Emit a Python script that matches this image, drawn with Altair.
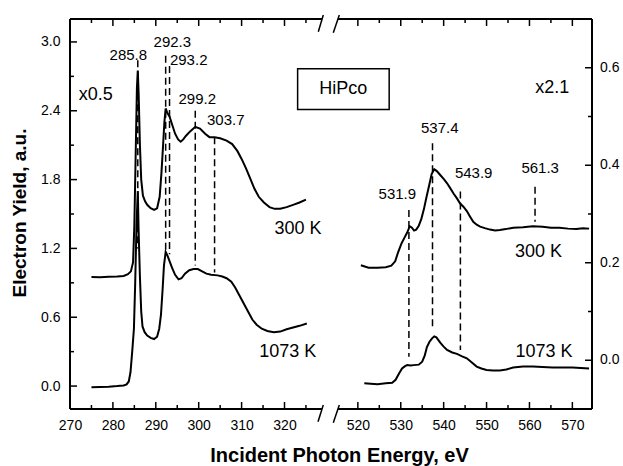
import altair as alt
import pandas as pd

# ---------------- data ----------------
# C 1s region, 300 K (x0.5, offset) - left axis
c300_E = [275.0, 277.0, 279.0, 281.0, 282.5, 283.5, 284.2, 284.7, 285.0, 285.3, 285.6, 285.8,
          286.0, 286.3, 286.6, 287.0, 287.5, 288.0, 288.8, 289.6, 290.3, 290.9, 291.3, 291.7,
          292.0, 292.3, 292.7, 293.2, 293.8, 294.5, 295.2, 295.8, 296.4, 297.0, 298.0, 299.2,
          300.3, 301.5, 302.5, 303.7, 305.0, 306.5, 307.8, 309.0, 310.0, 311.0, 312.0, 313.0,
          314.0, 315.2, 316.5, 317.7, 319.0, 320.5, 322.0, 323.5, 325.0]
c300_Y = [0.95, 0.948, 0.952, 0.955, 0.96, 0.975, 1.0, 1.08, 1.4, 2.0, 2.6, 2.75,
          2.55, 2.1, 1.8, 1.66, 1.61, 1.58, 1.55, 1.535, 1.55, 1.65, 1.85, 2.1,
          2.3, 2.42, 2.38, 2.35, 2.28, 2.2, 2.15, 2.13, 2.15, 2.18, 2.22, 2.26,
          2.245, 2.2, 2.17, 2.17, 2.16, 2.14, 2.11, 2.05, 1.98, 1.9, 1.81, 1.72,
          1.65, 1.6, 1.56, 1.545, 1.545, 1.56, 1.58, 1.6, 1.625]

# C 1s region, 1073 K - left axis
c1073_E = [275.0, 277.0, 279.0, 281.0, 282.5, 283.2, 283.7, 284.1, 284.5, 284.9, 285.2, 285.5,
           285.8, 286.0, 286.3, 286.6, 286.9, 287.4, 288.0, 288.8, 289.6, 290.3, 290.8, 291.2,
           291.6, 291.9, 292.3, 292.7, 293.2, 293.8, 294.5, 295.3, 296.0, 296.8, 297.8, 298.8,
           299.8, 300.8, 301.8, 302.9, 304.4, 305.5, 306.5, 307.6, 308.5, 309.5, 310.5, 311.5,
           312.5, 313.5, 314.7, 316.0, 317.5, 319.0, 320.5, 322.0, 323.5, 325.2]
c1073_Y = [-0.01, -0.008, -0.005, 0.0, 0.005, 0.015, 0.04, 0.12, 0.3, 0.5, 0.9, 1.4,
           1.7, 1.35, 0.95, 0.65, 0.52, 0.47, 0.44, 0.42, 0.41, 0.43, 0.5, 0.62,
           0.85, 1.05, 1.17, 1.14, 1.09, 1.03, 0.97, 0.93, 0.94, 0.98, 1.01, 1.02,
           1.02, 1.0, 0.98, 0.97, 0.965, 0.955, 0.94, 0.91, 0.86, 0.79, 0.72, 0.65,
           0.58, 0.535, 0.5, 0.48, 0.47, 0.475, 0.495, 0.51, 0.525, 0.545]

# O 1s region, 300 K (x2.1) - right axis
o300_E = [520.7, 522.5, 524.6, 526.5, 527.8, 528.7, 529.4, 530.2, 530.9, 531.5, 532.1, 532.6,
          533.1, 533.6, 534.2, 534.8, 535.4, 536.0, 536.6, 537.2, 537.8, 538.4, 539.2, 540.0,
          540.8, 541.6, 542.3, 543.1, 543.8, 544.6, 545.4, 546.2, 546.9, 547.7, 548.5, 549.6,
          550.8, 552.0, 553.1, 554.5, 556.2, 558.5, 560.8, 563.1, 565.0, 567.0, 569.0, 570.9,
          572.5, 573.9]
o300_Y = [0.195, 0.19, 0.19, 0.191, 0.194, 0.203, 0.222, 0.24, 0.252, 0.262, 0.275, 0.272,
          0.266, 0.268, 0.276, 0.29, 0.31, 0.335, 0.358, 0.382, 0.392, 0.388, 0.38, 0.372,
          0.363, 0.352, 0.342, 0.332, 0.322, 0.315, 0.306, 0.294, 0.284, 0.278, 0.274, 0.271,
          0.268, 0.266, 0.267, 0.269, 0.272, 0.273, 0.275, 0.274, 0.272, 0.272, 0.27, 0.269,
          0.271, 0.27]

# O 1s region, 1073 K - right axis
o1073_E = [521.5, 523.0, 524.6, 526.5, 528.0, 528.8, 529.6, 530.3, 531.0, 531.5, 532.3, 533.0,
           534.2, 535.0, 535.6, 536.1, 536.7, 537.3, 537.8, 538.3, 539.2, 540.0, 540.8, 542.0,
           543.1, 544.3, 545.4, 546.5, 547.7, 548.8, 550.0, 551.5, 553.1, 554.6, 556.2, 558.5,
           560.8, 563.0, 565.4, 567.7, 570.0, 572.0, 573.9]
o1073_Y = [-0.047, -0.048, -0.049, -0.047, -0.046, -0.04, -0.027, -0.017, -0.012, -0.01, -0.011, -0.01,
           -0.009, -0.003, 0.01, 0.027, 0.038, 0.045, 0.049, 0.047, 0.036, 0.028, 0.021, 0.016,
           0.013, 0.008, 0.004, -0.004, -0.013, -0.017, -0.02, -0.021, -0.021, -0.019, -0.015, -0.013,
           -0.013, -0.014, -0.015, -0.015, -0.015, -0.016, -0.017]

# dashed peak markers
cpk_E = [285.8, 292.3, 293.2, 299.2, 303.7]
cpk_top = [2.84, 2.88, 2.79, 2.40, 2.17]
cpk_bot = [1.2, 1.18, 1.15, 1.05, 0.99]
opk_E = [531.9, 537.4, 543.9, 561.3]
opk_top = [0.308, 0.445, 0.346, 0.356]
opk_bot = [0.007, 0.066, 0.021, 0.284]

# annotation labels
cnum_text = ["285.8", "292.3", "293.2", "299.2", "303.7"]
cnum_E = [283.6, 293.85, 297.67, 299.67, 306.3]
cnum_Y = [2.883, 3.0, 2.84, 2.506, 2.316]
cbig_text = ["x0.5", "300 K", "1073 K"]
cbig_E = [276.0, 323.15, 320.77]
cbig_Y = [2.54, 1.366, 0.296]
onum_text = ["531.9", "537.4", "543.9", "561.3"]
onum_E = [529.2, 539.1, 547.0, 562.5]
onum_Y = [0.342, 0.476, 0.385, 0.394]
obig_text = ["x2.1", "300 K", "1073 K"]
obig_E = [565.3, 562.1, 563.4]
obig_Y = [0.558, 0.2227, 0.0175]

# tick values
x_major_left = [270, 280, 290, 300, 310, 320]
x_minor_left = [275, 285, 295, 305, 315, 325]
x_major_right = [520, 530, 540, 550, 560, 570]
x_minor_right = [525, 535, 545, 555, 565]
yl_major = [0.0, 0.6, 1.2, 1.8, 2.4, 3.0]
yl_minor = [0.3, 0.9, 1.5, 2.1, 2.7]
yr_major = [0.0, 0.2, 0.4, 0.6]
yr_minor = [0.1, 0.3, 0.5]

# ---------------- layout ----------------
FONT = "Liberation Sans"
W, H = 522, 390
PXU = 4.29                 # pixels per eV
X0 = 270.0
XMAX = X0 + W / PXU
OFF = 182.9                # shift of the O 1s segment on the broken axis
TMAJ, TMIN = 7, 4          # inward tick lengths (px)
YL = (-0.2, 3.2)           # left axis range
YR = (-0.1, 0.7)           # right axis range
RATIO = (YL[1] - YL[0]) / (YR[1] - YR[0])

xs = alt.Scale(domain=[X0, XMAX], nice=False, zero=False)
ys = alt.Scale(domain=list(YL), nice=False, zero=False)


def r2l(field):
    # right-axis value -> left-axis units (one shared y scale)
    return f"(datum['{field}'] - ({YR[0]})) * {RATIO} + ({YL[0]})"


def shift(field="E"):
    return f"datum['{field}'] - {OFF}"


xmaj = x_major_left + [v - OFF for v in x_major_right]
xmin = x_minor_left + [v - OFF for v in x_minor_right]
lab_expr = f"datum.value < 330 ? format(datum.value, '.0f') : format(datum.value + {OFF}, '.0f')"

common = dict(domain=True, domainOpacity=0, grid=True, gridOpacity=0, ticks=False,
              labelFont=FONT, labelFontSize=14, labelColor="black", labelOverlap=False)

# the same axis objects are given to every layer so that the shared axes merge cleanly
ax_x = alt.Axis(orient="bottom", values=xmaj, labelExpr=lab_expr, labelPadding=9, labelFlush=False,
                title="Incident Photon Energy, eV", titleFont=FONT, titleFontSize=20,
                titleFontWeight="bold", titleColor="black", titleX=269, titleY=52,
                titleBaseline="alphabetic", titleAlign="center", **common)
ax_y = alt.Axis(orient="left", values=yl_major, format=".1f", labelPadding=10,
                title="Electron Yield, a.u.", titleFont=FONT, titleFontSize=19,
                titleFontWeight="bold", titleColor="black", titleAngle=270,
                titleX=-50.5, titleY=193.5, titleBaseline="middle", titleAlign="center", **common)

df_c300 = pd.DataFrame({"E": c300_E, "Y": c300_Y})
df_c1073 = pd.DataFrame({"E": c1073_E, "Y": c1073_Y})
df_o300 = pd.DataFrame({"E": o300_E, "Y": o300_Y})
df_o1073 = pd.DataFrame({"E": o1073_E, "Y": o1073_Y})
df_cpk = pd.DataFrame({"E": cpk_E, "top": cpk_top, "bot": cpk_bot})
df_opk = pd.DataFrame({"E": opk_E, "top": opk_top, "bot": opk_bot})
df_cnum = pd.DataFrame({"E": cnum_E, "Y": cnum_Y, "t": cnum_text})
df_cbig = pd.DataFrame({"E": cbig_E, "Y": cbig_Y, "t": cbig_text})
df_onum = pd.DataFrame({"E": onum_E, "Y": onum_Y, "t": onum_text})
df_obig = pd.DataFrame({"E": obig_E, "Y": obig_Y, "t": obig_text})
one = pd.DataFrame({"k": [0]})


def X(f):
    return alt.X(f, scale=xs, axis=ax_x)


def Y(f):
    return alt.Y(f, scale=ys, axis=ax_y)


LINE = dict(color="black", strokeWidth=2)

l1 = alt.Chart(df_c300).mark_line(**LINE).encode(x=X("E:Q"), y=Y("Y:Q"))
l2 = alt.Chart(df_c1073).mark_line(**LINE).encode(x=X("E:Q"), y=Y("Y:Q"))
l3 = alt.Chart(df_o300).transform_calculate(xp=shift(), yp=r2l("Y")).mark_line(**LINE).encode(
    x=X("xp:Q"), y=Y("yp:Q"))
l4 = alt.Chart(df_o1073).transform_calculate(xp=shift(), yp=r2l("Y")).mark_line(**LINE).encode(
    x=X("xp:Q"), y=Y("yp:Q"))

DASH = dict(color="black", strokeWidth=1.5, strokeDash=[7, 4])
d1 = alt.Chart(df_cpk).mark_rule(**DASH).encode(x=X("E:Q"), y=Y("top:Q"), y2="bot:Q")
d2 = alt.Chart(df_opk).transform_calculate(xp=shift(), yt=r2l("top"), yb=r2l("bot")).mark_rule(**DASH).encode(
    x=X("xp:Q"), y=Y("yt:Q"), y2="yb:Q")


def texts(df, size, right=False):
    ch = alt.Chart(df)
    xf, yf = "E:Q", "Y:Q"
    if right:
        ch = ch.transform_calculate(xp=shift(), yp=r2l("Y"))
        xf, yf = "xp:Q", "yp:Q"
    return ch.mark_text(font=FONT, fontSize=size, color="black", baseline="middle", align="center").encode(
        x=X(xf), y=Y(yf), text="t:N")


t1 = texts(df_cnum, 15)
t2 = texts(df_cbig, 18)
t3 = texts(df_onum, 15, right=True)
t4 = texts(df_obig, 18, right=True)

# HiPco box
box_df = pd.DataFrame({"x1": [323.06], "x2": [344.4], "y1": [2.767], "y2": [2.41],
                       "xc": [333.7], "yc": [2.587], "t": ["HiPco"]})
box = alt.Chart(box_df).mark_rect(fill="white", stroke="black", strokeWidth=1.5).encode(
    x=X("x1:Q"), x2="x2:Q", y=Y("y1:Q"), y2="y2:Q")
box_t = alt.Chart(box_df).mark_text(font=FONT, fontSize=18, color="black", baseline="middle", align="center").encode(
    x=X("xc:Q"), y=Y("yc:Q"), text="t:N")

# right-axis labels (values of the right scale)
df_yr = pd.DataFrame({"v": yr_major})
yr_labels = alt.Chart(df_yr).transform_calculate(
    yp=r2l("v"), lab="format(datum.v, '.1f')").mark_text(
    font=FONT, fontSize=14, color="black", align="left", baseline="middle").encode(
    x=alt.value(W + 8), y=Y("yp:Q"), text="lab:N")

# inward ticks as rules through the scales
TICK = dict(color="black", strokeWidth=1.5)
yl_per_px = (YL[1] - YL[0]) / H
x_per_px = 1.0 / PXU
tick_layers = []
for vals, ln in ((xmaj, TMAJ), (xmin, TMIN)):
    d_bot = pd.DataFrame({"v": vals, "a": YL[0], "b": YL[0] + ln * yl_per_px})
    d_top = pd.DataFrame({"v": vals, "a": YL[1] - ln * yl_per_px, "b": YL[1]})
    for d in (d_bot, d_top):
        tick_layers.append(alt.Chart(d).mark_rule(**TICK).encode(x=X("v:Q"), y=Y("a:Q"), y2="b:Q"))
for vals, ln in ((yl_major, TMAJ), (yl_minor, TMIN)):
    d = pd.DataFrame({"v": vals, "a": X0, "b": X0 + ln * x_per_px})
    tick_layers.append(alt.Chart(d).mark_rule(**TICK).encode(y=Y("v:Q"), x=X("a:Q"), x2="b:Q"))
for vals, ln in ((yr_major, TMAJ), (yr_minor, TMIN)):
    d = pd.DataFrame({"v": vals, "a": XMAX - ln * x_per_px, "b": XMAX})
    tick_layers.append(alt.Chart(d).transform_calculate(yp=r2l("v")).mark_rule(**TICK).encode(
        y=Y("yp:Q"), x=X("a:Q"), x2="b:Q"))


# frame with axis break (plot pixels)
def seg(x1, y1, x2=None, y2=None, w=2.0):
    enc = dict(x=alt.value(x1), y=alt.value(y1))
    if x2 is not None:
        enc["x2"] = alt.value(x2)
    if y2 is not None:
        enc["y2"] = alt.value(y2)
    return alt.Chart(one).mark_rule(color="black", strokeWidth=w).encode(**enc)


frame = [
    seg(0, 0, y2=H),
    seg(W, 0, y2=H),
    seg(0, 0, x2=252),
    seg(268, 0, x2=W),
    seg(0, H, x2=252),
    seg(268, H, x2=W),
    seg(248.3, 12.7, 253.3, -4, w=1.5),
    seg(263.3, 13.7, 269.3, -4, w=1.5),
    seg(248.0, H + 12.7, 253.3, H - 4, w=1.5),
    seg(263.3, H + 13.7, 269.3, H - 4, w=1.5),
]

chart = alt.layer(l1, l2, l3, l4, d1, d2, t1, t2, t3, t4, box, box_t, yr_labels,
                  *tick_layers, *frame).properties(
    width=W, height=H,
    padding={"left": 70, "top": 19, "right": 31, "bottom": 57},
    autosize=alt.AutoSizeParams(type="none"),
).configure_view(strokeWidth=0)

chart.save("out.html", embed_options={"renderer": "svg", "actions": False})
